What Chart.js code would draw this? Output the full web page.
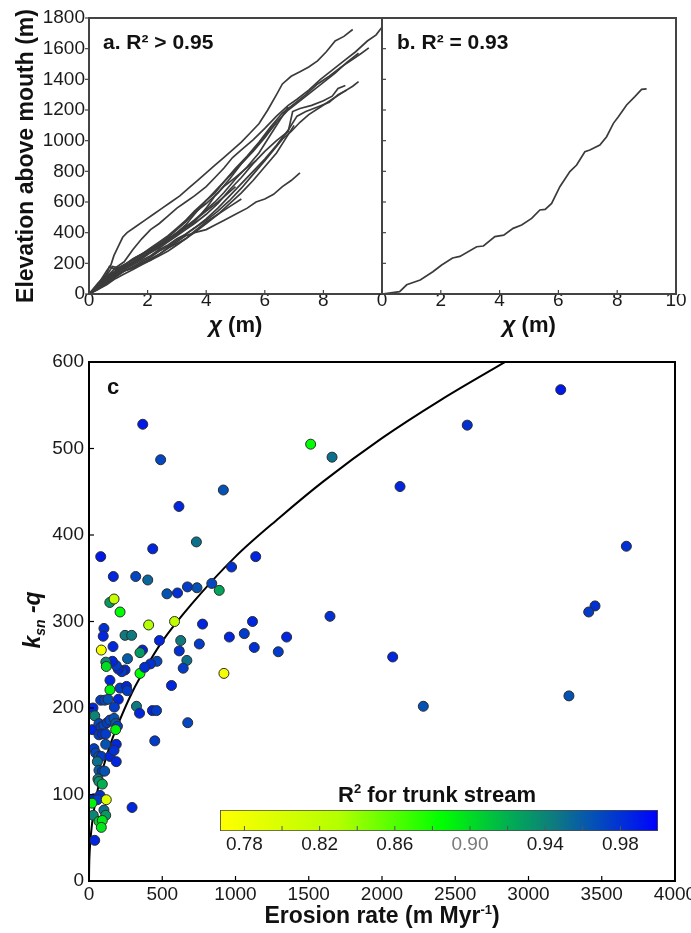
<!DOCTYPE html>
<html>
<head>
<meta charset="utf-8">
<script src="https://cdn.jsdelivr.net/npm/chart.js@4.4.1/dist/chart.umd.min.js"></script>
<style>
html, body { margin: 0; padding: 0; background: #fff; }
#wrap { position: relative; width: 691px; height: 933px; overflow: hidden; }
#wrap canvas { position: absolute; left: 0; top: 0; }
</style>
</head>
<body>
<div id="wrap">
  <canvas id="chartA" width="691" height="340"></canvas>
  <canvas id="chartB" width="691" height="340"></canvas>
  <canvas id="chartC" width="691" height="933"></canvas>
  <canvas id="chartBar" width="691" height="933"></canvas>
</div>
<script>
// ---- panel a: chi profiles with R2 > 0.95 (chi, elevation) ----
const streamA1 = [[0,0],[0.2,35],[0.4,90],[0.6,150],[0.75,190],[0.85,250],[1.0,310],[1.15,370],[1.3,400],[1.6,440],[1.9,480],[2.2,520],[2.5,560],[2.8,600],[3.1,640],[3.4,690],[3.7,740],[4.0,790],[4.3,840],[4.6,890],[4.9,940],[5.2,990],[5.5,1050],[5.8,1110],[6.1,1200],[6.4,1300],[6.6,1370],[6.9,1420],[7.2,1450],[7.5,1480],[7.8,1520],[8.1,1580],[8.4,1650],[8.7,1680],[9.0,1725]];
const streamA2 = [[0,0],[0.3,60],[0.6,110],[0.9,170],[1.2,210],[1.5,290],[1.8,360],[2.1,420],[2.4,460],[2.7,510],[3.0,560],[3.3,600],[3.6,640],[4.0,700],[4.3,760],[4.6,820],[4.9,890],[5.2,940],[5.6,1005],[6.0,1080],[6.4,1160],[6.8,1230],[7.1,1270],[7.5,1330],[7.9,1400],[8.3,1460],[8.7,1520],[9.1,1580],[9.5,1650],[9.8,1690],[10.0,1740]];
const streamA3 = [[0,0],[0.3,40],[0.6,90],[0.9,130],[1.2,180],[1.5,200],[1.8,240],[2.1,270],[2.4,310],[2.7,350],[3.0,400],[3.3,450],[3.6,520],[4.0,610],[4.3,660],[4.6,730],[5.0,820],[5.4,900],[5.8,990],[6.2,1090],[6.6,1180],[7.0,1240],[7.4,1300],[7.8,1370],[8.2,1420],[8.6,1480],[9.0,1530],[9.3,1570],[9.55,1605]];
const streamA4 = [[0,0],[0.3,45],[0.6,85],[0.9,120],[1.2,160],[1.5,190],[1.8,220],[2.1,250],[2.4,290],[2.7,320],[3.0,360],[3.3,390],[3.6,430],[4.0,480],[4.4,540],[4.8,610],[5.2,690],[5.6,780],[6.0,870],[6.3,940],[6.6,1010],[6.9,1060],[7.2,1120],[7.5,1170],[7.9,1220],[8.3,1270],[8.7,1320],[9.0,1355],[9.2,1385]];
const streamA5 = [[0,0],[0.3,50],[0.6,100],[0.9,140],[1.2,170],[1.5,200],[1.8,230],[2.1,270],[2.4,300],[2.7,340],[3.0,380],[3.3,420],[3.6,460],[4.0,520],[4.4,590],[4.8,680],[5.2,760],[5.6,850],[6.0,930],[6.4,1000],[6.8,1060],[6.95,1190],[7.2,1210],[7.6,1230],[8.0,1260],[8.3,1290],[8.5,1340],[8.75,1360]];
const streamA6 = [[0,0],[0.3,35],[0.6,80],[0.9,120],[1.2,150],[1.5,180],[1.8,210],[2.1,240],[2.4,280],[2.7,310],[3.0,350],[3.3,390],[3.6,430],[4.0,490],[4.4,560],[4.8,640],[5.2,720],[5.6,800],[6.0,880],[6.4,970],[6.8,1070],[7.1,1160],[7.4,1190],[7.8,1220],[8.2,1250],[8.5,1300],[8.8,1330]];
const streamA7 = [[0,0],[0.3,30],[0.6,70],[0.9,110],[1.2,150],[1.5,170],[1.8,200],[2.1,230],[2.4,260],[2.7,300],[3.0,340],[3.3,380],[3.6,400],[4.0,420],[4.3,450],[4.6,480],[5.0,520],[5.4,560],[5.7,600],[6.0,620],[6.3,650],[6.6,700],[6.9,740],[7.2,790]];
const streamA8 = [[0,0],[0.3,40],[0.6,90],[0.9,130],[1.2,170],[1.5,200],[1.8,240],[2.1,280],[2.4,320],[2.7,350],[3.0,390],[3.3,430],[3.6,470],[4.0,560],[4.3,640],[4.6,700],[5.0,760],[5.3,810],[5.7,870]];
const streamA9 = [[0,0],[0.3,55],[0.6,110],[0.9,150],[1.2,180],[1.5,210],[1.8,250],[2.1,290],[2.4,330],[2.7,370],[3.0,420],[3.3,470],[3.6,530],[4.0,590],[4.4,660],[4.8,750],[5.2,850],[5.6,940],[6.0,1030],[6.4,1120],[6.8,1200],[7.2,1260],[7.6,1320],[8.0,1380],[8.4,1440],[8.8,1510],[9.2,1570]];
const streamA10 = [[0,0],[0.3,60],[0.6,120],[0.8,180],[1.0,170],[1.3,200],[1.6,240],[1.9,270],[2.2,300],[2.5,330],[2.8,370],[3.1,410],[3.4,450],[3.7,500],[4.0,550],[4.3,600],[4.6,660],[5.0,750],[5.4,830],[5.8,920],[6.2,1040],[6.5,1130],[6.8,1220]];
const streamA11 = [[0,0],[0.3,40],[0.6,70],[0.9,110],[1.2,150],[1.5,170],[1.8,200],[2.1,220],[2.4,260],[2.7,300],[3.0,330],[3.3,360],[3.6,400],[4.0,460],[4.4,520],[4.8,590],[5.2,660],[5.6,740],[6.0,830],[6.4,920],[6.7,1010],[7.0,1100]];
const streamA12 = [[0,0],[0.3,50],[0.6,100],[0.9,150],[1.2,190],[1.5,220],[1.8,260],[2.1,300],[2.4,340],[2.7,380],[3.0,430],[3.3,480],[3.6,540],[4.0,610],[4.4,690],[4.8,770],[5.2,850],[5.6,930],[6.0,1020],[6.4,1120]];
const streamA13 = [[0,0],[0.3,30],[0.6,60],[0.9,100],[1.2,130],[1.5,160],[1.8,190],[2.1,220],[2.4,250],[2.7,280],[3.0,320],[3.3,360],[3.6,410],[4.0,470],[4.4,520],[4.8,570],[5.2,620]];
const streamA14 = [[0,0],[0.3,70],[0.6,130],[0.7,180],[0.9,160],[1.2,190],[1.5,230],[1.8,260],[2.1,290],[2.4,320],[2.7,360],[3.0,400],[3.3,440],[3.6,480],[4.0,540],[4.4,600],[4.7,650],[5.0,700]];
const aStreams = [streamA1, streamA2, streamA3, streamA4, streamA5, streamA6, streamA7, streamA8, streamA9, streamA10, streamA11, streamA12, streamA13, streamA14];

// ---- panel b: single trunk stream, R2 = 0.93 ----
const streamB = [[0,0],[0.6,15],[0.84,60],[1.3,91],[1.73,145],[2.03,189],[2.4,235],[2.65,245],[3.22,308],[3.45,313],[3.84,374],[4.14,384],[4.46,428],[4.75,450],[5.09,493],[5.37,548],[5.55,552],[5.77,591],[6.05,700],[6.39,798],[6.62,841],[6.9,928],[7.07,939],[7.41,972],[7.64,1026],[7.87,1113],[8.04,1156],[8.32,1233],[8.6,1287],[8.83,1335],[9.0,1338]];

const elevTicks = [0, 200, 400, 600, 800, 1000, 1200, 1400, 1600, 1800];
const aChiTicks = [0, 2, 4, 6, 8];
const bChiTicks = [0, 2, 4, 6, 8, 10];

// ---- panel c: ksn-q vs erosion rate, coloured by trunk-stream R2 ----
const erosionRate = [367,489,614,917,1513,1659,80,435,733,166,319,401,1138,973,838,889,532,604,672,737,142,171,212,407,584,775,1116,1645,102,3220,2582,2123,3668,3454,3411,2073,2282,3276,958,1060,1128,1292,1349,921,753,626,616,668,643,563,674,433,461,449,294,481,464,420,365,348,348,380,324,345,246,291,263,246,224,200,186,160,143,143,212,256,261,200,173,97,84,164,115,118,80,107,130,27,39,23,68,82,102,123,143,171,182,194,182,68,91,114,114,186,34,46,68,84,143,171,186,57,68,91,107,61,68,91,34,75,57,118,20,29,102,114,68,91,84,39];
const ksnQ = [528,487,433,452,505,490,375,384,392,352,352,348,375,363,344,336,332,333,340,339,322,326,311,296,300,297,300,306,292,568,527,456,387,318,311,259,202,214,282,286,270,265,282,240,274,278,266,255,246,226,183,197,197,162,85,278,254,251,267,264,240,247,202,194,284,284,257,244,242,245,249,254,232,221,223,225,220,210,201,283,267,271,253,248,209,209,210,200,191,175,182,178,180,183,186,188,182,179,175,169,170,170,158,158,153,148,144,144,144,151,138,138,128,127,127,118,115,112,95,99,94,94,90,76,82,76,69,70,62,47];
const trunkR2 = [0.99,0.97,0.985,0.965,0.885,0.95,0.99,0.985,0.95,0.985,0.97,0.955,0.985,0.98,0.97,0.925,0.965,0.98,0.975,0.965,0.93,0.815,0.885,0.83,0.82,0.985,0.985,0.98,0.98,0.99,0.98,0.985,0.98,0.98,0.975,0.985,0.965,0.965,0.985,0.975,0.98,0.975,0.985,0.775,0.975,0.945,0.98,0.95,0.975,0.985,0.97,0.985,0.975,0.975,0.985,0.985,0.97,0.98,0.985,0.93,0.885,0.98,0.945,0.985,0.945,0.945,0.96,0.985,0.975,0.985,0.975,0.985,0.985,0.89,0.975,0.985,0.975,0.985,0.975,0.985,0.775,0.985,0.94,0.9,0.975,0.97,0.965,0.985,0.94,0.985,0.97,0.975,0.97,0.975,0.97,0.965,0.96,0.975,0.89,0.975,0.98,0.975,0.965,0.985,0.975,0.97,0.96,0.975,0.985,0.98,0.985,0.95,0.96,0.975,0.965,0.945,0.935,0.92,0.985,0.98,0.975,0.795,0.89,0.94,0.95,0.93,0.905,0.895,0.895,0.985];
// power-law fit
const fitErosion = [0,1,5,15,30,60,100,150,200,300,400,500,700,1000,1300,1600,2000,2400,2860];
const fitKsn = [0,15,35,57,78,106,133,160,182,220,250,277,320,375,420,462,512,556,602];
const erosionTicks = [0, 500, 1000, 1500, 2000, 2500, 3000, 3500, 4000];
const ksnTicks = [0, 100, 200, 300, 400, 500, 600];

// ---- colour bar ----
const cbMin = 0.767, cbMax = 1.0;
const cbTicks = [0.78, 0.82, 0.86, 0.90, 0.94, 0.98];
const cbMinorTicks = [0.78, 0.80, 0.82, 0.84, 0.86, 0.88, 0.90, 0.92, 0.94, 0.96, 0.98];
const cmapStops = [[0.767,[255,255,0]],[0.83,[180,255,0]],[0.885,[0,255,0]],[0.92,[0,176,80]],[0.945,[14,122,128]],[0.965,[5,82,181]],[0.985,[0,38,224]],[1.0,[0,0,255]]];

const SANS = "'Liberation Sans', Arial, sans-serif";
Chart.defaults.font.family = SANS;
Chart.defaults.color = '#111';
Chart.defaults.animation = false;

function r2Color(v) {
  for (let i = 1; i < cmapStops.length; i++) {
    const [v0, c0] = cmapStops[i - 1], [v1, c1] = cmapStops[i];
    if (v <= v1 || i === cmapStops.length - 1) {
      const t = Math.max(0, Math.min(1, (v - v0) / (v1 - v0)));
      return 'rgb(' + c0.map((c, j) => Math.round(c + (c1[j] - c) * t)).join(',') + ')';
    }
  }
}

function zeroPad(s) { s.paddingLeft = 0; s.paddingRight = 0; s.paddingTop = 0; s.paddingBottom = 0; }
function setTicks(list) { return s => { s.ticks = list.map(v => ({ value: v })); }; }
const plainLabel = v => String(v);

// box round the plot area
function framePlugin(color, width) {
  return {
    id: 'frame',
    afterDatasetsDraw(chart) {
      const { ctx, chartArea: a } = chart;
      ctx.save();
      ctx.strokeStyle = color; ctx.lineWidth = width;
      ctx.strokeRect(a.left, a.top, a.right - a.left, a.bottom - a.top);
      ctx.restore();
    }
  };
}

// short tick marks; len > 0 points into the plot
function tickPlugin(marks) {
  return {
    id: 'tickMarks',
    afterDatasetsDraw(chart) {
      const { ctx, chartArea: a } = chart;
      ctx.save();
      marks.forEach(m => {
        const s = chart.scales[m.scale];
        ctx.strokeStyle = m.color || '#333'; ctx.lineWidth = m.width || 1.2;
        m.values.forEach(v => {
          const p = s.getPixelForValue(v);
          ctx.beginPath();
          if (s.isHorizontal()) { ctx.moveTo(p, a.bottom); ctx.lineTo(p, a.bottom - m.len); }
          else if (m.side === 'right') { ctx.moveTo(a.right, p); ctx.lineTo(a.right + m.len, p); }
          else { ctx.moveTo(a.left, p); ctx.lineTo(a.left + m.len, p); }
          ctx.stroke();
        });
      });
      ctx.restore();
    }
  };
}

// mixed-font text (titles, panel labels)
function textPlugin(items) {
  return {
    id: 'texts',
    afterDraw(chart) {
      const { ctx, chartArea: a } = chart;
      items.forEach(it => {
        ctx.save();
        ctx.translate(it.x(a), it.y(a));
        if (it.rot) ctx.rotate(it.rot);
        ctx.textBaseline = 'alphabetic';
        ctx.textAlign = 'left';
        ctx.fillStyle = it.color || '#111';
        let w = 0;
        it.runs.forEach(r => { ctx.font = r.font; w += ctx.measureText(r.text).width; });
        let x = it.align === 'left' ? 0 : -w / 2;
        it.runs.forEach(r => {
          ctx.font = r.font;
          ctx.fillText(r.text, x, r.dy || 0);
          x += ctx.measureText(r.text).width;
        });
        ctx.restore();
      });
    }
  };
}

const topTickFont = { family: SANS, size: 19 };
const lineColor = '#3b3b3b';

// ---------- panel a ----------
new Chart(document.getElementById('chartA'), {
  type: 'line',
  data: {
    datasets: aStreams.map(s => ({
      data: s.map(p => ({ x: p[0], y: p[1] })),
      borderColor: lineColor, borderWidth: 1.7, pointRadius: 0, tension: 0, fill: false
    }))
  },
  options: {
    responsive: false, events: [],
    layout: { padding: { left: 0, top: 18, right: 691 - 382, bottom: 0 } },
    plugins: { legend: { display: false }, tooltip: { enabled: false } },
    scales: {
      x: {
        type: 'linear', min: 0, max: 10,
        afterBuildTicks: setTicks(aChiTicks),
        afterFit: s => { s.height = 46; zeroPad(s); },
        grid: { display: false, drawTicks: false }, border: { display: false },
        ticks: { font: topTickFont, padding: -5, color: '#1a1a1a', maxRotation: 0, callback: plainLabel }
      },
      y: {
        type: 'linear', min: 0, max: 1800,
        afterBuildTicks: setTicks(elevTicks),
        afterFit: s => { s.width = 89; zeroPad(s); },
        grid: { display: false, drawTicks: false }, border: { display: false },
        ticks: { font: topTickFont, padding: 4, color: '#1a1a1a', callback: plainLabel }
      }
    }
  },
  plugins: [
    framePlugin('#444', 2),
    tickPlugin([{ scale: 'x', values: aChiTicks, len: 4, color: '#444' },
                { scale: 'y', values: elevTicks, len: -4, color: '#444' }]),
    textPlugin([
      { x: a => a.left + 14, y: a => a.top + 31, align: 'left', runs: [{ text: 'a. R² > 0.95', font: 'bold 21px ' + SANS }] },
      { x: a => (a.left + a.right) / 2, y: a => a.bottom + 38, runs: [
        { text: 'χ', font: 'italic bold 23px ' + SANS }, { text: ' (m)', font: 'bold 22px ' + SANS }] },
      { x: a => 33, y: a => (a.top + a.bottom) / 2, rot: -Math.PI / 2, runs: [
        { text: 'Elevation above mouth (m)', font: 'bold 23px ' + SANS }] }
    ])
  ]
});

// ---------- panel b ----------
new Chart(document.getElementById('chartB'), {
  type: 'line',
  data: {
    datasets: [{
      data: streamB.map(p => ({ x: p[0], y: p[1] })),
      borderColor: lineColor, borderWidth: 1.7, pointRadius: 0, tension: 0, fill: false
    }]
  },
  options: {
    responsive: false, events: [],
    layout: { padding: { left: 0, top: 18, right: 691 - 676, bottom: 0 } },
    plugins: { legend: { display: false }, tooltip: { enabled: false } },
    scales: {
      x: {
        type: 'linear', min: 0, max: 10,
        afterBuildTicks: setTicks(bChiTicks),
        afterFit: s => { s.height = 46; zeroPad(s); },
        grid: { display: false, drawTicks: false }, border: { display: false },
        ticks: { font: topTickFont, padding: -5, color: '#1a1a1a', maxRotation: 0, callback: plainLabel }
      },
      y: {
        type: 'linear', min: 0, max: 1800,
        afterBuildTicks: setTicks(elevTicks),
        afterFit: s => { s.width = 382; zeroPad(s); },
        grid: { display: false, drawTicks: false }, border: { display: false },
        ticks: { display: false }
      }
    }
  },
  plugins: [
    framePlugin('#444', 2),
    tickPlugin([{ scale: 'x', values: bChiTicks, len: 4, color: '#444' },
                { scale: 'y', values: elevTicks, len: 4, color: '#444' }]),
    textPlugin([
      { x: a => a.left + 15, y: a => a.top + 31, align: 'left', runs: [{ text: 'b. R² = 0.93', font: 'bold 21px ' + SANS }] },
      { x: a => (a.left + a.right) / 2, y: a => a.bottom + 38, runs: [
        { text: 'χ', font: 'italic bold 23px ' + SANS }, { text: ' (m)', font: 'bold 22px ' + SANS }] }
    ])
  ]
});

// ---------- panel c ----------
const cTickFont = { family: SANS, size: 19 };
new Chart(document.getElementById('chartC'), {
  type: 'scatter',
  data: {
    datasets: [
      {
        data: erosionRate.map((e, i) => ({ x: e, y: ksnQ[i] })),
        pointBackgroundColor: trunkR2.map(r2Color),
        pointBorderColor: '#2b2b2b', pointBorderWidth: 1, pointRadius: 5
      },
      {
        type: 'line',
        data: fitErosion.map((e, i) => ({ x: e, y: fitKsn[i] })),
        borderColor: '#000', borderWidth: 2, pointRadius: 0,
        cubicInterpolationMode: 'monotone', fill: false
      }
    ]
  },
  options: {
    responsive: false, events: [],
    layout: { padding: { left: 0, top: 362, right: 691 - 675, bottom: 0 } },
    plugins: { legend: { display: false }, tooltip: { enabled: false } },
    scales: {
      x: {
        type: 'linear', min: 0, max: 4000,
        afterBuildTicks: setTicks(erosionTicks),
        afterFit: s => { s.height = 933 - 881; zeroPad(s); },
        grid: { display: false, drawTicks: false }, border: { display: false },
        ticks: { font: cTickFont, padding: 2, color: '#1a1a1a', maxRotation: 0, callback: plainLabel }
      },
      y: {
        type: 'linear', min: 0, max: 600,
        afterBuildTicks: setTicks(ksnTicks),
        afterFit: s => { s.width = 89; zeroPad(s); },
        grid: { display: false, drawTicks: false }, border: { display: false },
        ticks: { font: cTickFont, padding: 5, color: '#1a1a1a', callback: plainLabel }
      }
    }
  },
  plugins: [
    framePlugin('#000', 2),
    tickPlugin([{ scale: 'x', values: erosionTicks, len: 5, color: '#000' },
                { scale: 'y', values: ksnTicks, len: 5, color: '#000' }]),
    textPlugin([
      { x: a => a.left + 18, y: a => a.top + 32, align: 'left', runs: [{ text: 'c', font: 'bold 22px ' + SANS }] },
      { x: a => (a.left + a.right) / 2, y: a => a.bottom + 42, runs: [
        { text: 'Erosion rate (m Myr', font: 'bold 23px ' + SANS },
        { text: '-1', font: 'bold 13px ' + SANS, dy: -9 },
        { text: ')', font: 'bold 23px ' + SANS }] },
      { x: a => 40, y: a => 620, rot: -Math.PI / 2, runs: [
        { text: 'k', font: 'italic bold 23px ' + SANS },
        { text: 'sn', font: 'italic bold 14px ' + SANS, dy: 5 },
        { text: ' -q', font: 'italic bold 23px ' + SANS }] }
    ])
  ]
});

// ---------- colour bar ----------
function cbGradient(ctx) {
  const ch = ctx.chart, s = ch.scales.x;
  if (!s || !ch.chartArea) return 'rgba(0,0,0,0)';
  const x0 = s.getPixelForValue(cbMin), x1 = s.getPixelForValue(cbMax);
  if (!isFinite(x0) || !isFinite(x1)) return 'rgba(0,0,0,0)';
  const g = ch.ctx.createLinearGradient(x0, 0, x1, 0);
  cmapStops.forEach(([v]) => g.addColorStop((v - cbMin) / (cbMax - cbMin), r2Color(v)));
  return g;
}

new Chart(document.getElementById('chartBar'), {
  type: 'bar',
  data: {
    labels: ['R2'],
    datasets: [{
      data: [[cbMin, cbMax]],
      backgroundColor: cbGradient,
      borderColor: '#4a4a4a', borderWidth: 1.2, borderSkipped: false,
      barPercentage: 1, categoryPercentage: 1
    }]
  },
  options: {
    indexAxis: 'y', responsive: false, events: [],
    layout: { padding: { left: 220, top: 810, right: 691 - 658, bottom: 0 } },
    plugins: { legend: { display: false }, tooltip: { enabled: false } },
    scales: {
      x: {
        type: 'linear', min: cbMin, max: cbMax,
        afterBuildTicks: setTicks(cbTicks),
        afterFit: s => { s.height = 933 - 831; zeroPad(s); },
        grid: { display: false, drawTicks: false }, border: { display: false },
        ticks: {
          font: { family: SANS, size: 19 }, padding: 2, maxRotation: 0,
          color: c => (c.tick && c.tick.value === 0.9 ? '#7a7a7a' : '#1a1a1a'),
          callback: v => v.toFixed(2)
        }
      },
      y: { display: false }
    }
  },
  plugins: [
    tickPlugin([{ scale: 'x', values: cbMinorTicks, len: 5, color: '#555', width: 1 }]),
    textPlugin([
      { x: a => (a.left + a.right) / 2 - 2, y: a => a.top - 8, runs: [
        { text: 'R', font: 'bold 22px ' + SANS },
        { text: '2', font: 'bold 13px ' + SANS, dy: -9 },
        { text: ' for trunk stream', font: 'bold 22px ' + SANS }] }
    ])
  ]
});
</script>
</body>
</html>
